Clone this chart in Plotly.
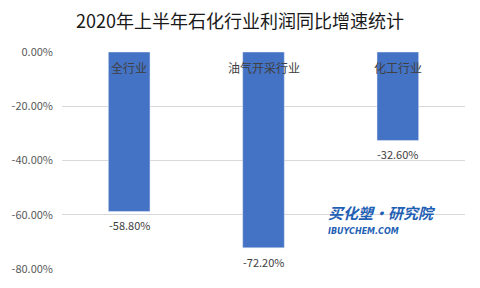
import plotly.graph_objects as go

categories = ["全行业", "油气开采行业", "化工行业"]
values = [-58.80, -72.20, -32.60]
tick_vals = [0, -20, -40, -60, -80]
tick_text = ["0.00%", "-20.00%", "-40.00%", "-60.00%", "-80.00%"]
title = "2020年上半年石化行业利润同比增速统计"

fig = go.Figure()
fig.add_trace(go.Bar(
    x=categories, y=values, marker_color="#4472C4", width=0.31,
    hoverinfo="skip",
))

for c, v in zip(categories, values):
    fig.add_annotation(x=c, y=0, text=c, showarrow=False, yanchor="top", yshift=-5,
                       font=dict(size=12, color="#404040", family="Noto Sans CJK SC"))
    fig.add_annotation(x=c, y=v, text=f"{v:.2f}%", showarrow=False, yanchor="top", yshift=-4,
                       font=dict(size=11, color="#404040", family="Noto Sans CJK SC"))

fig.add_annotation(xref="paper", yref="paper", x=0.795, y=0.262, xanchor="center", yanchor="middle",
                   text="<b><i>买化塑·研究院</i></b>",
                   showarrow=False, font=dict(size=15, color="#1f5fb4", family="Noto Sans CJK SC"))
fig.add_annotation(xref="paper", yref="paper", x=0.748, y=0.172, xanchor="center", yanchor="middle",
                   text="<b><i>IBUYCHEM.COM</i></b>",
                   showarrow=False, font=dict(size=8, color="#1f5fb4", family="DejaVu Sans"))

fig.update_layout(
    width=480, height=288,
    margin=dict(l=60, r=15, t=52, b=15),
    paper_bgcolor="white", plot_bgcolor="white",
    title=dict(text=title, x=0.5, xanchor="center", y=0.925, yanchor="middle",
               font=dict(size=18, color="#1a1a1a", family="Noto Sans CJK SC")),
    showlegend=False,
    bargap=0.69,
    xaxis=dict(showticklabels=False, showgrid=False, zeroline=False, showline=False, ticks=""),
    yaxis=dict(range=[-80, 0], tickvals=tick_vals, ticktext=tick_text, showgrid=True,
               gridcolor="#d9d9d9", gridwidth=1, zeroline=False, showline=False,
               ticks="", ticklen=0, tickfont=dict(size=11, color="#595959", family="Noto Sans CJK SC"),
               ticklabelstandoff=8),
)

fig.write_html("out.html")
